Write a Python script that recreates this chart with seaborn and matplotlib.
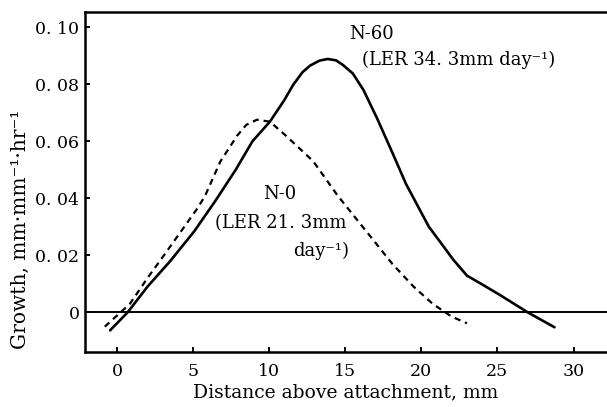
import matplotlib
matplotlib.use("Agg")
import matplotlib.pyplot as plt
import seaborn as sns
import pandas as pd

# --- data ---
n60_x = [-0.45, 0.7, 2.0, 3.5, 5.1, 6.45, 7.8, 8.9, 10.05, 11.0, 11.6, 12.2, 12.7, 13.3, 13.85, 14.4, 14.85, 15.5, 16.2, 17.1, 18.1, 19.0, 19.8, 20.5, 21.2, 22.1, 23.0, 24.1, 25.2, 26.1, 27.0, 28.75]
n60_y = [-0.0063, 0.0, 0.009, 0.018, 0.0286, 0.039, 0.050, 0.060, 0.0669, 0.0745, 0.0800, 0.0843, 0.0866, 0.0883, 0.0889, 0.0884, 0.0868, 0.0838, 0.078, 0.068, 0.056, 0.045, 0.037, 0.030, 0.025, 0.0185, 0.0129, 0.0095, 0.006, 0.003, 0.0, -0.0052]
n0_x = [-0.8, 0.85, 2.0, 3.3, 5.3, 5.8, 6.8, 7.9, 8.5, 9.2, 10.05, 11.1, 12.9, 14.5, 16.3, 18.1, 19.5, 20.75, 22.0, 23.0]
n0_y = [-0.005, 0.003, 0.012, 0.0216, 0.0366, 0.041, 0.053, 0.062, 0.0658, 0.0676, 0.0669, 0.062, 0.053, 0.041, 0.029, 0.017, 0.009, 0.003, -0.0015, -0.0038]
x_ticks = [0, 5, 10, 15, 20, 25, 30]
y_ticks = [0, 0.02, 0.04, 0.06, 0.08, 0.10]
y_labels = ["0", "0. 02", "0. 04", "0. 06", "0. 08", "0. 10"]

sns.set_style("white")
plt.rcParams["font.family"] = ["DejaVu Serif"]
plt.rcParams["text.color"] = "black"
plt.rcParams["axes.labelcolor"] = "black"

fig = plt.figure(figsize=(6.07, 4.07), dpi=100)
ax = fig.add_axes([0.140, 0.135, 0.860, 0.835])

df60 = pd.DataFrame({"x": n60_x, "y": n60_y})
df0 = pd.DataFrame({"x": n0_x, "y": n0_y})
sns.lineplot(data=df60, x="x", y="y", ax=ax, color="black", lw=1.9, sort=False)
sns.lineplot(data=df0, x="x", y="y", ax=ax, color="black", lw=1.6, sort=False,
             linestyle=(0, (2.8, 2.2)))
ax.axhline(0, color="black", lw=1.4, zorder=0)

ax.set_xlim(-2.1, 32.2)
ax.set_ylim(-0.0139, 0.1053)
ax.set_xticks(x_ticks)
ax.set_yticks(y_ticks)
ax.set_yticklabels(y_labels)
ax.tick_params(bottom=True, left=True, direction="in", length=3.5, width=1.4,
               labelsize=12.5, colors="black", pad=4)
ax.tick_params(axis="x", pad=8)
for s in ["left", "bottom", "top"]:
    ax.spines[s].set_linewidth(1.8)
    ax.spines[s].set_color("black")
ax.spines["right"].set_visible(False)

ax.set_xlabel("Distance above attachment, mm", fontsize=13.5, labelpad=2)
ax.set_ylabel("Growth, mm·mm⁻¹·hr⁻¹", fontsize=14.5)
ax.yaxis.set_label_coords(-0.105, 0.36)

ax.text(16.7, 0.0976, "N-60", fontsize=13, ha="center", va="center")
ax.text(16.1, 0.0885, "(LER 34. 3mm day⁻¹)", fontsize=13, ha="left", va="center")
ax.text(10.7, 0.0415, "N-0", fontsize=13, ha="center", va="center")
ax.text(6.43, 0.0314, "(LER 21. 3mm", fontsize=13, ha="left", va="center")
ax.text(11.55, 0.0216, "day⁻¹)", fontsize=13, ha="left", va="center")

fig.savefig("out.png", dpi=100)
